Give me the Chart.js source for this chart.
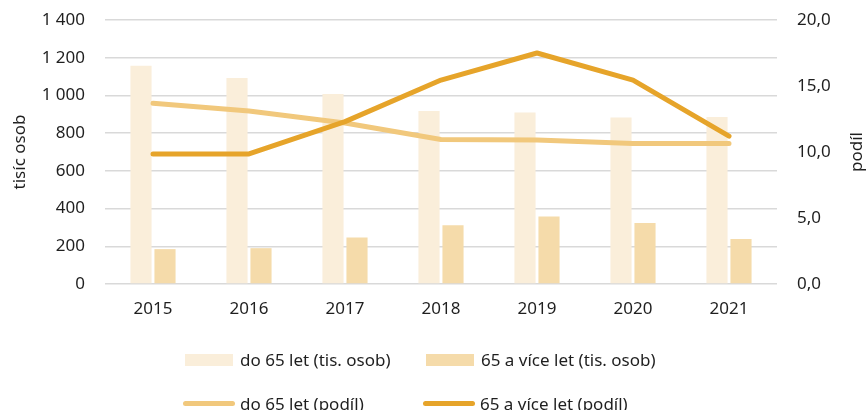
<!DOCTYPE html>
<html lang="cs">
<head>
<meta charset="utf-8">
<title>Podíl podle věku</title>
<script src="https://cdn.jsdelivr.net/npm/chart.js@4.4.1/dist/chart.umd.min.js"></script>
<style>
  html, body { margin: 0; padding: 0; background: #fff; }
  #wrap { position: relative; width: 866px; height: 410px; overflow: hidden; font-family: 'Noto Sans', sans-serif; }
  #graf { position: absolute; left: 0; top: 0; }
  .leg { position: absolute; display: flex; align-items: center; font-size: 17px; color: #1f1f1f; white-space: nowrap; }
  .box { width: 48px; height: 12px; margin-right: 7px; }
  .ln  { width: 52px; height: 5px; border-radius: 3px; margin-right: 5px; }
</style>
</head>
<body>
<div id="wrap">
  <canvas id="graf" width="866" height="410"></canvas>
  <div class="leg" style="left:185px; top:348px;"><span class="box" style="background:#FAEEDA"></span>do 65 let (tis. osob)</div>
  <div class="leg" style="left:426px; top:348px;"><span class="box" style="background:#F5DBAA"></span>65 a více let (tis. osob)</div>
  <div class="leg" style="left:183px; top:392px;"><span class="ln" style="background:#F1C87C"></span>do 65 let (podíl)</div>
  <div class="leg" style="left:423px; top:392px;"><span class="ln" style="background:#E6A42A"></span>65 a více let (podíl)</div>
</div>
<script>
'use strict';

/* ── DATA ── */
const ROKY = ['2015', '2016', '2017', '2018', '2019', '2020', '2021'];

/* tisíc osob */
const DO65_OSOB    = [1158, 1092, 1008, 917, 909, 883, 886];
const NAD65_OSOB   = [185, 190, 247, 312, 358, 324, 239];

/* podíl (%) */
const DO65_PODIL   = [13.7, 13.1, 12.2, 10.95, 10.9, 10.65, 10.65];
const NAD65_PODIL  = [9.85, 9.85, 12.3, 15.45, 17.5, 15.45, 11.2];

/* popisky */
const NAZEV_LEVA  = 'tisíc osob';
const NAZEV_PRAVA = 'podíl';

const FONT = "'Noto Sans', sans-serif";
const TEXT = '#1f1f1f';
const VEL  = 17;

/* formát čísel: mezera jako oddělovač tisíců, čárka jako desetinná */
function tisice(v) {
  return String(v).replace(/\B(?=(\d{3})+(?!\d))/g, ' ');
}
function desetinne(v) {
  return v.toFixed(1).replace('.', ',');
}

/* pevná šířka svislé osy, bez přidaného odsazení nahoře/dole */
function pevnaOsa(sirka) {
  return function (s) {
    s.width = sirka;
    s.paddingTop = 0;
    s.paddingBottom = 0;
  };
}

/* název pravé osy otočený zdola nahoru (jako levý) */
const titulekVpravo = {
  id: 'titulekVpravo',
  afterDraw(chart) {
    const y = chart.scales.y1;
    const ctx = chart.ctx;
    ctx.save();
    ctx.translate(857, (y.top + y.bottom) / 2);
    ctx.rotate(-Math.PI / 2);
    ctx.font = VEL + 'px ' + FONT;
    ctx.fillStyle = TEXT;
    ctx.textAlign = 'center';
    ctx.textBaseline = 'middle';
    ctx.fillText(NAZEV_PRAVA, 0, 0);
    ctx.restore();
  }
};

new Chart(document.getElementById('graf'), {
  data: {
    labels: ROKY,
    datasets: [
      {
        type: 'line', label: '65 a více let (podíl)', data: NAD65_PODIL, yAxisID: 'y1',
        borderColor: '#E6A42A', borderWidth: 5, borderCapStyle: 'round', borderJoinStyle: 'round',
        pointRadius: 0, tension: 0, order: 0
      },
      {
        type: 'line', label: 'do 65 let (podíl)', data: DO65_PODIL, yAxisID: 'y1',
        borderColor: '#F1C87C', borderWidth: 5, borderCapStyle: 'round', borderJoinStyle: 'round',
        pointRadius: 0, tension: 0, order: 1
      },
      {
        type: 'bar', label: 'do 65 let (tis. osob)', data: DO65_OSOB, yAxisID: 'y',
        backgroundColor: '#FAEEDA', categoryPercentage: 0.5, barPercentage: 0.88, order: 2
      },
      {
        type: 'bar', label: '65 a více let (tis. osob)', data: NAD65_OSOB, yAxisID: 'y',
        backgroundColor: '#F5DBAA', categoryPercentage: 0.5, barPercentage: 0.88, order: 2
      }
    ]
  },
  options: {
    responsive: false,
    animation: false,
    layout: { padding: { top: 20, bottom: 86, left: 0, right: 0 } },
    plugins: { legend: { display: false }, tooltip: { enabled: false } },
    scales: {
      x: {
        grid: { display: false, drawTicks: false },
        border: { display: false },
        ticks: { color: TEXT, font: { family: FONT, size: VEL }, padding: 15 },
        afterFit(s) { s.height = 40; }
      },
      y: {
        position: 'left',
        min: 0, max: 1400,
        ticks: { stepSize: 200, color: TEXT, font: { family: FONT, size: VEL }, padding: 20, callback: tisice },
        grid: { color: '#D9D9D9', lineWidth: 1.5, drawTicks: false },
        border: { display: false },
        title: { display: true, text: NAZEV_LEVA, color: TEXT, font: { family: FONT, size: VEL }, padding: { top: 10, bottom: 0 } },
        afterFit: pevnaOsa(105)
      },
      y1: {
        position: 'right',
        min: 0, max: 20,
        ticks: { stepSize: 5, color: TEXT, font: { family: FONT, size: VEL }, padding: 20, callback: desetinne },
        grid: { display: false, drawTicks: false },
        border: { display: false },
        afterFit: pevnaOsa(89)
      }
    }
  },
  plugins: [titulekVpravo]
});
</script>
</body>
</html>
